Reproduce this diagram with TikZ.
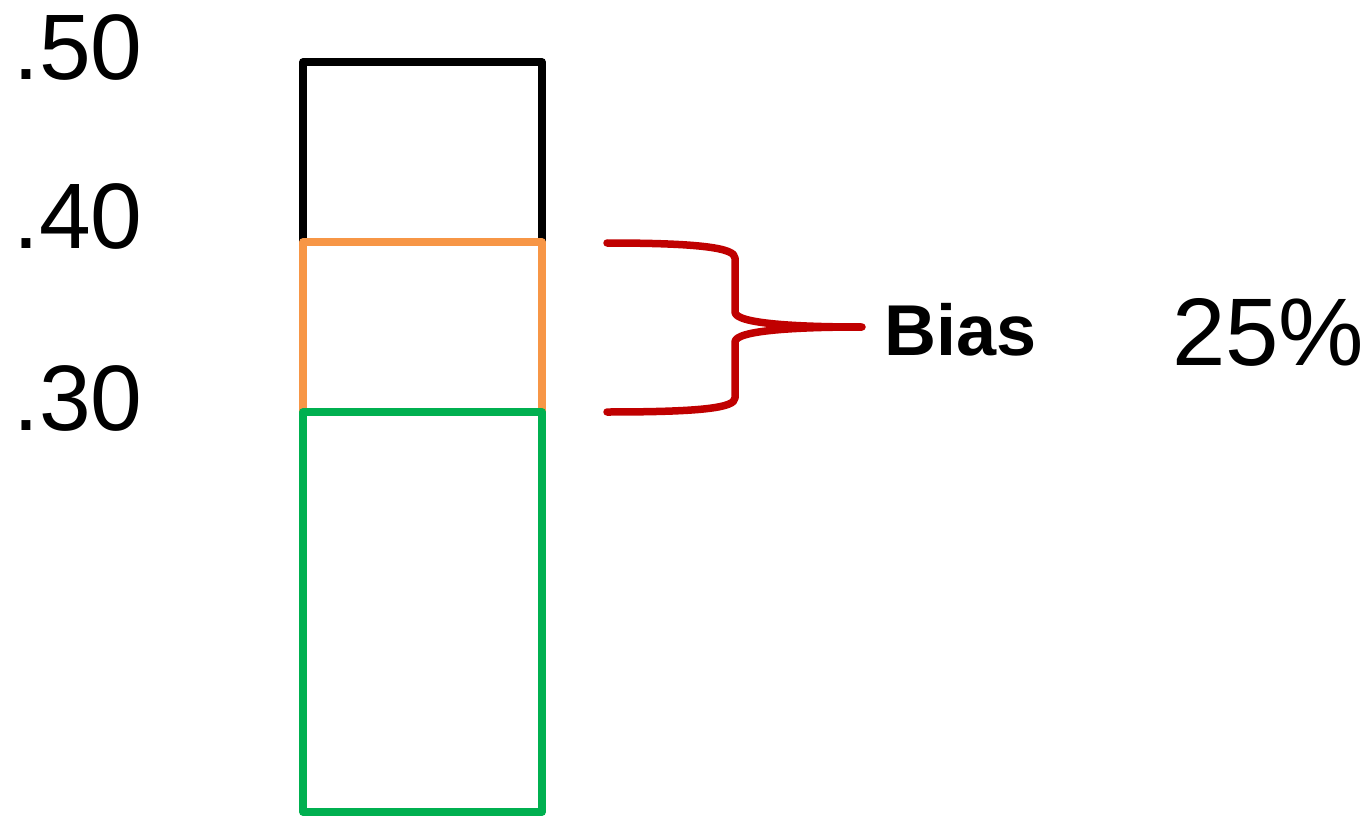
\documentclass[tikz,border=0pt]{standalone}
\usepackage{fontspec}
\setmainfont{Liberation Sans}
\definecolor{biasred}{HTML}{C00000}
\definecolor{midorange}{HTML}{F79646}
\definecolor{lowgreen}{HTML}{00B050}

\begin{document}
\begin{tikzpicture}[x=1pt, y=-1pt,
    bar/.style={line width=7.5pt, line join=round, line cap=round},
    tick/.style={anchor=base west, inner sep=0pt, font=\fontsize{93}{93}\selectfont}]
  \useasboundingbox (0,0) rectangle (1372,818);

  % the three bars
  \draw[bar, black] (303,62) rectangle (542,242);
  \draw[bar, midorange] (303,242) rectangle (542,412);
  \draw[bar, lowgreen] (303,412) rectangle (542,812);

  % scale
  \node[tick] (t50) at (13,80) {.50};
  \node[tick] (t40) at (13,248) {.40};
  \node[tick] (t30) at (13,430) {.30};

  % brace
  \draw[bar, biasred]
    (607,243) .. controls (700,243) and (735,248) .. (735,258) -- (735,312)
    .. controls (735,324) and (800,327) .. (862,327)
    .. controls (800,327) and (735,330) .. (735,342) -- (735,398)
    .. controls (735,408) and (700,412) .. (607,412);

  \node[anchor=base west, inner sep=0pt, font=\fontsize{72}{72}\selectfont\bfseries] (bias) at (884,355) {Bias};
  \node[tick, font=\fontsize{96}{96}\selectfont] (pct) at (1172,365) {25\%};
\end{tikzpicture}
\end{document}
